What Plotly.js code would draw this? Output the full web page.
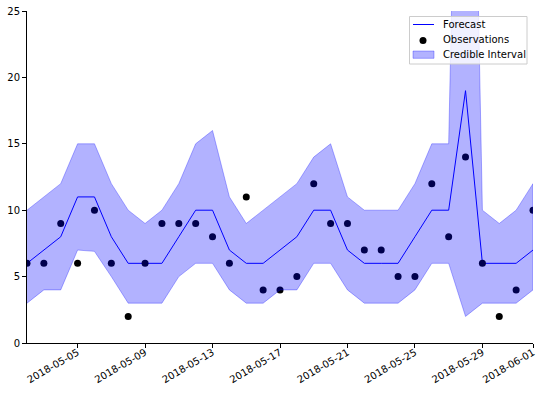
<!DOCTYPE html>
<html>
<head>
<meta charset="utf-8">
<script src="https://cdn.plot.ly/plotly-3.0.1.min.js"></script>
<style>
html,body{margin:0;padding:0;background:#fff;}
#chart{width:539px;height:395px;}
</style>
</head>
<body>
<div id="chart"></div>
<script>
var dates = ["2018-05-02","2018-05-03","2018-05-04","2018-05-05","2018-05-06","2018-05-07","2018-05-08","2018-05-09","2018-05-10","2018-05-11","2018-05-12","2018-05-13","2018-05-14","2018-05-15","2018-05-16","2018-05-17","2018-05-18","2018-05-19","2018-05-20","2018-05-21","2018-05-22","2018-05-23","2018-05-24","2018-05-25","2018-05-26","2018-05-27","2018-05-28","2018-05-29","2018-05-30","2018-05-31","2018-06-01"];
var forecast = [6,7,8,11,11,8,6,6,6,8,10,10,7,6,6,7,8,10,10,7,6,6,6,8,10,10,19,6,6,6,7];
var observations = [6,6,9,6,10,6,2,6,9,9,9,8,6,11,4,4,5,12,9,9,7,7,5,5,12,8,14,6,2,4,10];
var upper = [10,11,12,15,15,12,10,9,10,12,15,16,11,9,10,11,12,14,15,11,10,10,10,12,15,15,75,10,9,10,12];
var lower = [3,4,4,7,6.9,5,3,3,3,5,6,6,4,3,3,4,4,6,6,4,3,3,3,4,6,6,2,3,3,3,4];
var tickDates = ["2018-05-05","2018-05-09","2018-05-13","2018-05-17","2018-05-21","2018-05-25","2018-05-29","2018-06-01"];
var yTicks = [0,5,10,15,20,25];
var legendNames = ["Forecast","Observations","Credible Interval"];

var W = 539, H = 395, ML = 27, MR = 6, MT = 11, MB = 52;
var PW = W - ML - MR, PH = H - MT - MB;
function px(x){ return (x - ML) / PW; }
function py(y){ return (H - MB - y) / PH; }

var bandX = dates.concat(dates.slice().reverse());
var bandY = upper.concat(lower.slice().reverse());

var traces = [
  {x: dates, y: forecast, type: 'scatter', mode: 'lines', name: legendNames[0],
   line: {color: 'rgb(0,0,255)', width: 1}},
  {x: dates, y: observations, type: 'scatter', mode: 'markers', name: legendNames[1],
   marker: {color: '#000', size: 7}},
  {x: bandX, y: bandY, type: 'scatter', mode: 'lines', name: legendNames[2],
   fill: 'toself', fillcolor: 'rgba(0,0,255,0.3)',
   line: {color: 'rgba(0,0,255,0.3)', width: 1}}
];

// custom legend (matplotlib-style, compact)
var lgX0 = 409.5, lgX1 = 527, lgY0 = 16.5, lgY1 = 64;
var rowY = [24.5, 39.5, 54.5];
var shapes = [
  {type: 'rect', xref: 'paper', yref: 'paper', layer: 'above',
   x0: px(lgX0), x1: px(lgX1), y0: py(lgY1), y1: py(lgY0),
   fillcolor: 'rgba(255,255,255,0.8)', line: {color: '#cccccc', width: 1}},
  {type: 'line', xref: 'paper', yref: 'paper', layer: 'above',
   x0: px(413), x1: px(434), y0: py(rowY[0]), y1: py(rowY[0]),
   line: {color: 'rgb(0,0,255)', width: 1}},
  {type: 'circle', xref: 'paper', yref: 'paper', layer: 'above',
   x0: px(419.5), x1: px(426.5), y0: py(rowY[1] + 4.5), y1: py(rowY[1] - 2.5),
   fillcolor: '#000', line: {color: '#000', width: 0}},
  {type: 'rect', xref: 'paper', yref: 'paper', layer: 'above',
   x0: px(413), x1: px(434), y0: py(58.3), y1: py(51),
   fillcolor: 'rgba(0,0,255,0.3)', line: {color: 'rgba(0,0,255,0.3)', width: 1}}
];
var annotations = legendNames.map(function(n, i){
  return {xref: 'paper', yref: 'paper', x: px(441), y: py(rowY[i]),
          xanchor: 'left', yanchor: 'middle', showarrow: false, text: n,
          font: {family: 'DejaVu Sans', size: 10, color: '#000'}};
});

var layout = {
  width: W, height: H,
  margin: {l: ML, r: MR, t: MT, b: MB},
  paper_bgcolor: '#fff', plot_bgcolor: '#fff',
  font: {family: 'DejaVu Sans', size: 10, color: '#000'},
  showlegend: false,
  shapes: shapes,
  annotations: annotations,
  xaxis: {type: 'date', range: [dates[0], dates[dates.length-1]],
          tickvals: tickDates, ticktext: tickDates, tickangle: -30,
          ticklabelstandoff: -5,
          showgrid: false, zeroline: false, showline: true, linecolor: '#000', linewidth: 1,
          ticks: 'outside', ticklen: 4, tickcolor: '#000', tickwidth: 1,
          tickfont: {family: 'DejaVu Sans', size: 10, color: '#000'}},
  yaxis: {range: [0, 25], tickvals: yTicks,
          showgrid: false, zeroline: false, showline: true, linecolor: '#000', linewidth: 1,
          ticks: 'outside', ticklen: 4, tickcolor: '#000', tickwidth: 1,
          tickfont: {family: 'DejaVu Sans', size: 10, color: '#000'}}
};

Plotly.newPlot('chart', traces, layout, {displayModeBar: false, staticPlot: true});
</script>
</body>
</html>
